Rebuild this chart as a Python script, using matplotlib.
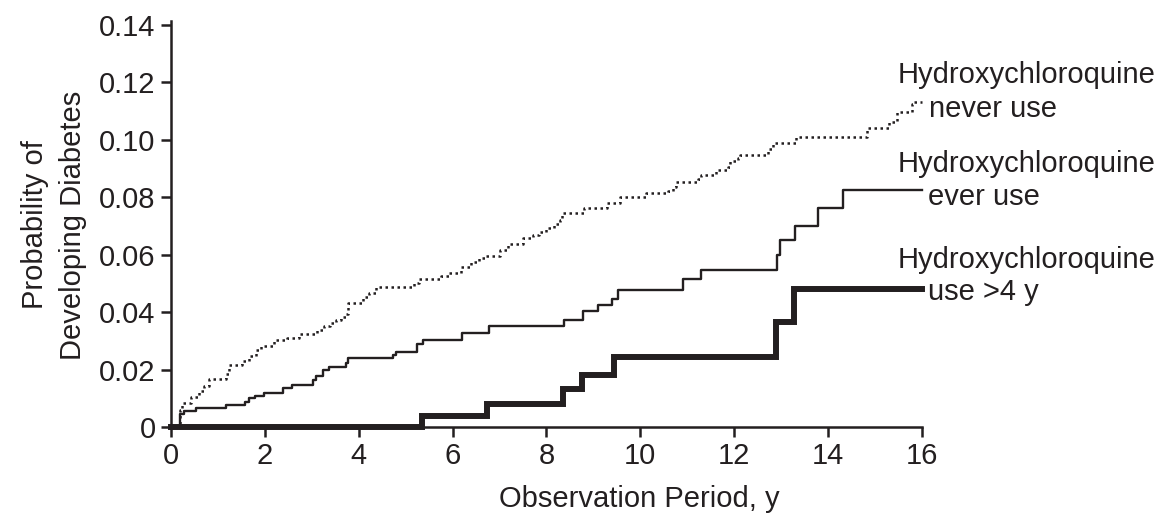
import matplotlib
matplotlib.use("Agg")
import matplotlib.pyplot as plt

plt.rcParams['font.family'] = ['Liberation Sans', 'DejaVu Sans']

# Hydroxychloroquine never use (dotted)
never_t = [0, 0.20, 0.24, 0.43, 0.60, 0.70, 0.80, 1.17, 1.24, 1.52, 1.66, 1.81, 1.91,
           2.20, 2.48, 2.73, 3.12, 3.26, 3.39, 3.51, 3.62, 3.73, 3.78, 4.10, 4.22,
           4.37, 5.18, 5.29, 5.75, 5.93, 6.18, 6.39, 6.57, 6.71, 7.00, 7.17, 7.50,
           7.71, 7.85, 8.00, 8.17, 8.28, 8.33, 8.81, 9.29, 9.57, 10.13, 10.59, 10.69,
           10.76, 11.23, 11.30, 11.61, 11.87, 11.90, 12.08, 12.13, 12.72, 12.82,
           13.31, 14.82, 15.30, 15.46, 15.78, 15.81, 16.00]
never_v = [0, 0.0060, 0.0085, 0.0106, 0.0127, 0.0142, 0.0166, 0.0185, 0.0216, 0.0230,
           0.0247, 0.0268, 0.0282, 0.0303, 0.0311, 0.0323, 0.0338, 0.0352, 0.0363,
           0.0373, 0.0382, 0.0394, 0.0433, 0.0452, 0.0468, 0.0489, 0.0500, 0.0514,
           0.0526, 0.0535, 0.0558, 0.0576, 0.0587, 0.0596, 0.0615, 0.0636, 0.0657,
           0.0669, 0.0680, 0.0692, 0.0707, 0.0721, 0.0744, 0.0761, 0.0781, 0.0802,
           0.0814, 0.0822, 0.0837, 0.0854, 0.0863, 0.0878, 0.0895, 0.0907, 0.0926,
           0.0936, 0.0947, 0.0967, 0.0988, 0.1009, 0.1040, 0.1063, 0.1098, 0.1124,
           0.1131, 0.1131]

# Hydroxychloroquine ever use (thin solid)
ever_t = [0, 0.20, 0.27, 0.54, 1.17, 1.57, 1.66, 1.79, 1.98, 2.38, 2.57, 3.02, 3.09,
          3.24, 3.37, 3.73, 3.78, 4.72, 4.79, 5.25, 5.36, 6.21, 6.78, 8.38, 8.78,
          9.10, 9.40, 9.52, 10.91, 11.30, 12.92, 12.97, 13.30, 13.79, 14.31, 16.00]
ever_v = [0, 0.0045, 0.0057, 0.0065, 0.0076, 0.0088, 0.0100, 0.0109, 0.0117, 0.0137,
          0.0146, 0.0164, 0.0178, 0.0199, 0.0208, 0.0224, 0.0239, 0.0251, 0.0262,
          0.0289, 0.0303, 0.0326, 0.0350, 0.0373, 0.0404, 0.0424, 0.0446, 0.0477,
          0.0514, 0.0546, 0.0599, 0.0651, 0.0701, 0.0764, 0.0826, 0.0826]

# Hydroxychloroquine use >4 y (thick solid)
long_t = [0, 5.35, 6.74, 8.36, 8.75, 9.43, 12.88, 13.27, 16.00]
long_v = [0, 0.0038, 0.0080, 0.0132, 0.0180, 0.0244, 0.0366, 0.0480, 0.0480]

x_ticks = [0, 2, 4, 6, 8, 10, 12, 14, 16]
y_ticks = [0, 0.02, 0.04, 0.06, 0.08, 0.10, 0.12, 0.14]
y_tick_labels = ['0', '0.02', '0.04', '0.06', '0.08', '0.10', '0.12', '0.14']

series_labels = [("Hydroxychloroquine", "never use"),
                 ("Hydroxychloroquine", "ever use"),
                 ("Hydroxychloroquine", "use >4 y")]

INK = '#231f20'
FS = 21

fig = plt.figure(figsize=(11.6, 5.18), dpi=100)
ax = fig.add_axes([0.1474, 0.1757, 0.6474, 0.7844])

ax.plot(never_t, never_v, drawstyle='steps-post', color=INK, lw=1.8,
        linestyle=(0, (1, 1.4)), dash_capstyle='butt', clip_on=False)
ax.plot(ever_t, ever_v, drawstyle='steps-post', color=INK, lw=1.7, clip_on=False)
ax.plot(long_t, long_v, drawstyle='steps-post', color=INK, lw=4.3, clip_on=False,
        solid_joinstyle='miter')

ax.set_xlim(0, 16)
ax.set_ylim(0, 0.1415)
ax.set_xticks(x_ticks)
ax.set_xticklabels([str(v) for v in x_ticks])
ax.set_yticks(y_ticks)
ax.set_yticklabels(y_tick_labels)

for s in ['top', 'right']:
    ax.spines[s].set_visible(False)
for s in ['left', 'bottom']:
    ax.spines[s].set_linewidth(1.8)
    ax.spines[s].set_color(INK)
ax.tick_params(direction='out', length=7, width=1.8, color=INK, labelsize=FS,
               labelcolor=INK)
ax.tick_params(axis='y', pad=4)
ax.tick_params(axis='x', pad=4)

ax.set_xlabel("Observation Period, y", fontsize=FS, color=INK)
ax.xaxis.set_label_coords(0.624, -0.143)
ax.set_ylabel("Probability of\nDeveloping Diabetes", fontsize=FS, color=INK,
              linespacing=1.45)
ax.yaxis.set_label_coords(-0.112, 0.497)

label_pos = [((15.49, 0.1198), (16.15, 0.1080)),
             ((15.49, 0.0888), (16.13, 0.0773)),
             ((15.49, 0.0554), (16.13, 0.0442))]
for (l1, l2), (p1, p2) in zip(series_labels, label_pos):
    ax.text(p1[0], p1[1], l1, fontsize=FS, color=INK, va='baseline', ha='left',
            clip_on=False)
    ax.text(p2[0], p2[1], l2, fontsize=FS, color=INK, va='baseline', ha='left',
            clip_on=False)

fig.savefig("out.png", dpi=100)
